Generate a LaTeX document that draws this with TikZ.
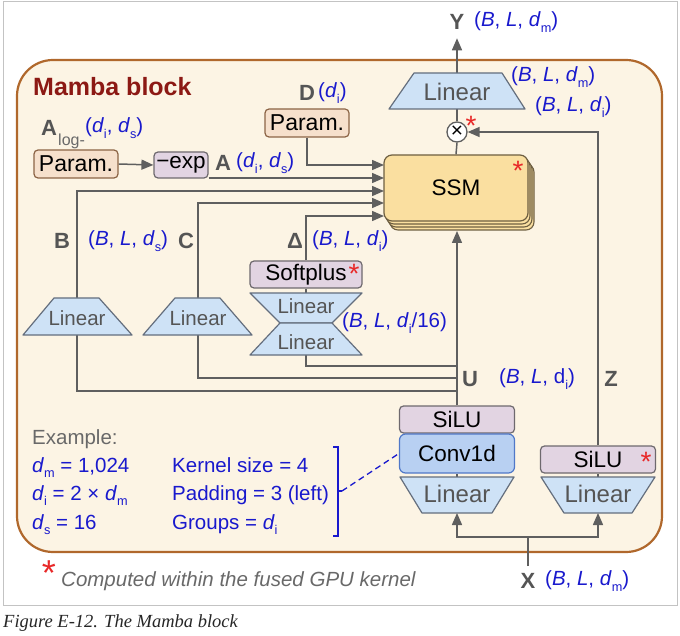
\documentclass[tikz,border=0pt]{standalone}
\usepackage{fontspec}
\setmainfont{Liberation Sans}
\newfontfamily\capfont{Liberation Serif}
\usetikzlibrary{arrows.meta}
\definecolor{blockfill}{RGB}{252,244,228}
\definecolor{blockbord}{RGB}{176,104,44}
\definecolor{lgray}{RGB}{95,95,95}
\definecolor{parfill}{RGB}{246,224,204}
\definecolor{parbord}{RGB}{140,100,70}
\definecolor{lavfill}{RGB}{226,212,226}
\definecolor{lavbord}{RGB}{110,105,110}
\definecolor{linfill}{RGB}{206,226,246}
\definecolor{linbord}{RGB}{100,110,125}
\definecolor{convfill}{RGB}{184,208,242}
\definecolor{convbord}{RGB}{80,120,200}
\definecolor{ssmfill}{RGB}{250,223,160}
\definecolor{ssmbord}{RGB}{110,95,65}
\definecolor{dimblue}{RGB}{25,25,205}
\definecolor{titlered}{RGB}{140,25,20}
\definecolor{lettergray}{RGB}{85,85,85}
\definecolor{astred}{RGB}{232,40,40}
\definecolor{framegray}{RGB}{195,195,195}
\definecolor{textgray}{RGB}{105,105,105}
\newcommand{\fs}[1]{\fontsize{#1}{#1}\selectfont}
\newcommand{\sbs}[1]{\raisebox{-0.5ex}{\scalebox{0.62}{#1}}}
\pgfdeclarelayer{back}
\pgfdeclarelayer{wires}
\pgfsetlayers{back,wires,main}
\tikzset{
 wire/.style={draw=lgray, line width=1.5pt},
 arr/.style={wire, -{Triangle[length=12pt,width=10pt]}},
 boxbase/.style={rounded corners=4pt, line width=1.2pt, inner sep=0pt, text=black, font=\fs{22.5}},
 parbox/.style={boxbase, fill=parfill, draw=parbord, minimum height=28pt, font=\fs{23}},
 lavbox/.style={boxbase, fill=lavfill, draw=lavbord, minimum height=27pt},
 convbox/.style={boxbase, fill=convfill, draw=convbord, rounded corners=6pt, minimum width=115pt, minimum height=39pt},
 linpoly/.style={fill=linfill, draw=linbord, line width=1.2pt, line join=round},
 lintext/.style={text=lettergray, inner sep=0pt},
 dim/.style={text=dimblue, font=\fs{20.5}, inner sep=0pt, anchor=west},
 exline/.style={text=dimblue, font=\fs{20.5}, inner sep=0pt, anchor=base west},
 letter/.style={text=lettergray, font=\fs{22}\bfseries, inner sep=0pt},
 ast/.style={text=astred, font=\fs{28}, inner sep=0pt},
}
\begin{document}
\begin{tikzpicture}[x=1pt,y=-1pt]
\useasboundingbox (0,0) rectangle (680,636);
\begin{pgfonlayer}{back}
\draw[framegray, line width=1pt] (3,2) rectangle (677,605);
\draw[blockbord, fill=blockfill, line width=2.2pt, rounded corners=36pt] (17,60) rectangle (662,552);
\end{pgfonlayer}

% title
\node[anchor=west, text=titlered, font=\fs{25}\bfseries, inner sep=0pt] (title) at (33,87) {Mamba block};

% output linear and Y
\filldraw[linpoly] (414,73) -- (502,73) -- (525,109) -- (389,109) -- cycle;
\node[lintext, font=\fs{24}] (linY) at (457,92) {Linear};
\coordinate (linYtop) at (457,73);
\coordinate (linYbot) at (457,109);
\node[letter, inner ysep=8.5pt] (Y) at (457,22) {Y};
\node[dim] (Ydim) at (474,22) {(\textit{B}, \textit{L}, \textit{d}\sbs{m})};
\node[dim] (dimm) at (511,77) {(\textit{B}, \textit{L}, \textit{d}\sbs{m})};
\node[dim] (dimi) at (535,107) {(\textit{B}, \textit{L}, \textit{d}\sbs{i})};
\node[circle, draw=lgray, fill=white, line width=1.3pt, minimum size=20pt, inner sep=0pt, font=\fs{21}] (mul) at (457,132) {×};
\node[ast] (astmul) at (471,126) {*};

% SSM stack
\foreach \o in {3,2,1}
  \filldraw[fill=ssmfill, draw=ssmbord, line width=1.1pt, rounded corners=8pt] (384+2*\o,155+3*\o) rectangle ++(144,66);
\node[draw=ssmbord, fill=ssmfill, line width=1.2pt, rounded corners=8pt, minimum width=144pt, minimum height=66pt, inner sep=0pt, font=\fs{22.5}] (ssm) at (456,188) {SSM};
\node[ast] (astssm) at (518,171) {*};
\coordinate (ssmbot) at (457,231);
\coordinate (inD) at (384,165);
\coordinate (inA) at (384,178);
\coordinate (inB) at (384,191);
\coordinate (inC) at (384,203);
\coordinate (inDel) at (384,216);

% parameters
\node[parbox, minimum width=84pt] (parA) at (76,164) {Param.};
\node[lavbox, minimum width=54pt, minimum height=26pt] (negexp) at (181,165) {−exp};
\node[parbox, minimum width=84pt] (parD) at (307,123) {Param.};
\node[letter] (Dl) at (307,93) {D};
\node[dim] (Ddim) at (318,93) {(\textit{d}\sbs{i})};
\node[letter] (Alog) at (49,128) {A};
\node[anchor=west, inner sep=0pt, text=textgray, font=\fs{16}] (logl) at (58,141) {log-};
\node[dim] (Alogdim) at (85,128) {(\textit{d}\sbs{i}, \textit{d}\sbs{s})};
\node[letter] (Al) at (223,163) {A};
\node[dim] (Adim) at (236,163) {(\textit{d}\sbs{i}, \textit{d}\sbs{s})};

% B and C linears
\filldraw[linpoly] (54,298) -- (99,298) -- (132,335) -- (23,335) -- cycle;
\node[lintext, font=\fs{20.5}] (linB) at (77,318) {Linear};
\coordinate (linBtop) at (77,298);
\coordinate (linBbot) at (77,335);
\filldraw[linpoly] (175,298) -- (220,298) -- (252,335) -- (143,335) -- cycle;
\node[lintext, font=\fs{20.5}] (linC) at (198,318) {Linear};
\coordinate (linCtop) at (198,298);
\coordinate (linCbot) at (198,335);
\node[letter] (Bl) at (62,241) {B};
\node[dim] (Bdim) at (88,241) {(\textit{B}, \textit{L}, \textit{d}\sbs{s})};
\node[letter] (Cl) at (186,241) {C};

% Delta branch
\node[lavbox, minimum width=112pt] (soft) at (306,274.5) {Softplus};
\node[ast] (astsoft) at (354,274) {*};
\filldraw[linpoly] (250,293) -- (362,293) -- (332,323) -- (280,323) -- cycle;
\node[lintext, font=\fs{20.5}] (linD1) at (306,306) {Linear};
\filldraw[linpoly] (280,323) -- (332,323) -- (362,355) -- (250,355) -- cycle;
\node[lintext, font=\fs{20.5}] (linD2) at (306,342) {Linear};
\coordinate (linDbot) at (306,355);
\node[letter] (Dell) at (295,241) {Δ};
\node[dim] (Deldim) at (312,241) {(\textit{B}, \textit{L}, \textit{d}\sbs{i})};
\node[dim] (dim16) at (342,323) {(\textit{B}, \textit{L}, \textit{d}\sbs{i}/16)};

% junctions on U line
\coordinate (jD) at (457,366);
\coordinate (jC) at (457,378);
\coordinate (jB) at (457,391);
\node[letter] (Ul) at (470,379) {U};
\node[dim] (Udim) at (499,379) {(\textit{B}, \textit{L}, d\sbs{i})};
\node[letter] (Zl) at (611,379) {Z};

% bottom blocks
\node[lavbox, minimum width=115pt] (siluU) at (457,419.5) {SiLU};
\node[convbox] (conv) at (457,453.5) {Conv1d};
\filldraw[linpoly] (400,477) -- (514,477) -- (492,513) -- (422,513) -- cycle;
\node[lintext, font=\fs{24}] (linU) at (457,494) {Linear};
\coordinate (linUtop) at (457,477);
\coordinate (linUbot) at (457,513);
\node[lavbox, minimum width=115pt] (siluZ) at (598,459.5) {SiLU};
\node[ast] (astsilu) at (646,462) {*};
\filldraw[linpoly] (541,477) -- (655,477) -- (632,513) -- (564,513) -- cycle;
\node[lintext, font=\fs{24}] (linZ) at (598,494) {Linear};
\coordinate (linZtop) at (598,477);
\coordinate (linZbot) at (598,513);
\node[letter, inner ysep=7pt] (X) at (528,581) {X};
\node[dim] (Xdim) at (545,581) {(\textit{B}, \textit{L}, \textit{d}\sbs{m})};
\coordinate (xsplit) at (528,537);

% example
\node[anchor=base west, inner sep=0pt, text=textgray, font=\fs{20.5}] (ex0) at (32,444) {Example:};
\node[exline] (ex1) at (32,472) {\textit{d}\sbs{m} = 1,024};
\node[exline] (ex2) at (32,500) {\textit{d}\sbs{i} = 2 × \textit{d}\sbs{m}};
\node[exline] (ex3) at (32,529) {\textit{d}\sbs{s} = 16};
\node[exline] (ex4) at (172,472) {Kernel size = 4};
\node[exline] (ex5) at (172,500) {Padding = 3 (left)};
\node[exline] (ex6) at (172,529) {Groups = \textit{d}\sbs{i}};
\draw[dimblue, line width=1.3pt] (333,447) -- (338,447) -- (338,536) -- (333,536);
\draw[dimblue, line width=1.3pt] (338,491) -- (342,491) coordinate (brmid);
\draw[dimblue, line width=1.3pt, dash pattern=on 6pt off 4pt] (brmid) -- (conv.west);

% legend and caption
\node[ast, font=\fs{36}] (astleg) at (49,573) {*};
\node[anchor=west, inner sep=0pt, text=textgray, font=\fs{20.5}\itshape] (legend) at (61,581) {Computed within the fused GPU kernel};
\node[anchor=west, inner sep=0pt, text=black!85, font=\capfont\fs{18.5}\itshape] (caption) at (3,623) {Figure E-12. The Mamba block};

% wires
\begin{pgfonlayer}{wires}
\draw[arr] (linYtop) -- (Y.south);
\draw[wire] (mul.north) -- (linYbot);
\draw[wire] (ssm.north) -- (mul.south);
\draw[arr] (siluZ.north) |- (mul.east);
\draw[arr] (parD.south) |- (inD);
\draw[arr] (parA.east) -- (negexp.west);
\draw[arr] (negexp.east |- inA) -- (inA);
\draw[arr] (linBtop) |- (inB);
\draw[arr] (linCtop) |- (inC);
\draw[arr] (soft.north) |- (inDel);
\draw[wire] (soft.south) -- (linDbot);
\draw[wire] (linBbot) |- (jB);
\draw[wire] (linCbot) |- (jC);
\draw[wire] (linDbot) |- (jD);
\draw[arr] (siluU.north) -- (ssmbot);
\draw[wire] (linUtop) -- (conv.south);
\draw[wire] (linZtop) -- (siluZ.south);
\draw[wire] (X.north) -- (xsplit);
\draw[arr] (xsplit) -| (linUbot);
\draw[arr] (xsplit) -| (linZbot);
\end{pgfonlayer}
\end{tikzpicture}
\end{document}
